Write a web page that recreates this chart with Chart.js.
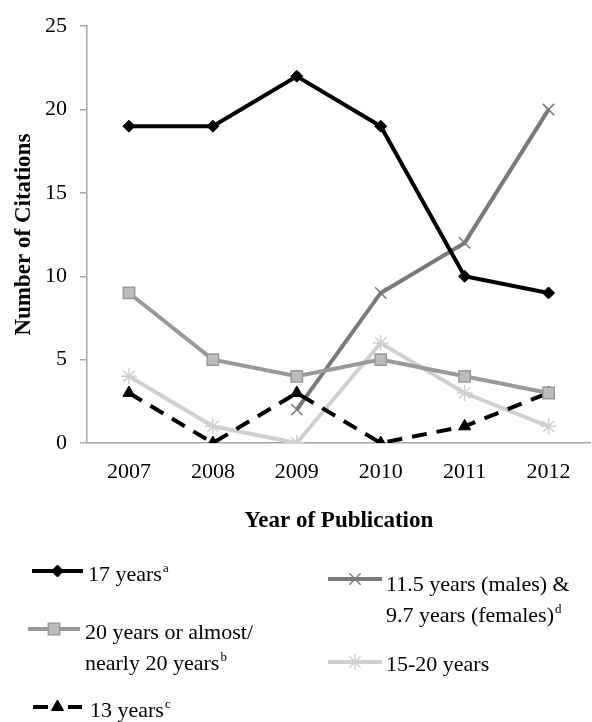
<!DOCTYPE html>
<html>
<head>
<meta charset="utf-8">
<script src="https://cdn.jsdelivr.net/npm/chart.js@4.4.0/dist/chart.umd.min.js"></script>
<style>
  html, body { margin: 0; padding: 0; background: #fff; overflow: hidden; }
  canvas { display: block; }
</style>
</head>
<body>
<canvas id="citas" width="600" height="722" style="width:600px;height:722px"></canvas>
<script>
const anos = ["2007", "2008", "2009", "2010", "2011", "2012"];
const yTicks = [0, 5, 10, 15, 20, 25];

const anos17 = [19, 19, 22, 19, 10, 9];
const anos20 = [9, 5, 4, 5, 4, 3];
const anos13 = [3, 0, 3, 0, 1, 3];
const anos115 = [null, null, 2, 9, 12, 20];
const anos1520 = [4, 1, 0, 6, 3, 1];

// legend text lines + footnote letter for each series
const nome17 = ["17 years"];
const nome20 = ["20 years or almost/", "nearly 20 years"];
const nome13 = ["13 years"];
const nome115 = ["11.5 years (males) &", "9.7 years (females)"];
const nome1520 = ["15-20 years"];
const notas = ["a", "b", "c", "d", ""];

const fonte = "'Liberation Serif', 'Times New Roman', serif";

const datasets = [
  {
    label: nome17.join(" "), data: anos17,
    borderColor: "#000", backgroundColor: "#000", borderWidth: 4,
    pointStyle: "rectRot", pointRadius: 6, pointBorderWidth: 1
  },
  {
    label: nome20.join(" "), data: anos20,
    borderColor: "#999", backgroundColor: "#bdbdbd", borderWidth: 4,
    pointStyle: "rect", pointRadius: 8, pointBorderWidth: 1.5, pointBorderColor: "#999"
  },
  {
    label: nome13.join(" "), data: anos13,
    borderColor: "#000", backgroundColor: "#000", borderWidth: 4, borderDash: [15, 10],
    pointStyle: "triangle", pointRadius: 7, pointBorderWidth: 1
  },
  {
    label: nome115.join(" "), data: anos115,
    borderColor: "#7a7a7a", backgroundColor: "#7a7a7a", borderWidth: 4,
    pointStyle: "crossRot", pointRadius: 8, pointBorderWidth: 1.5
  },
  {
    label: nome1520.join(" "), data: anos1520,
    borderColor: "#cfcfcf", backgroundColor: "#cfcfcf", borderWidth: 4,
    pointStyle: "star", pointRadius: 8, pointBorderWidth: 1.5
  }
];

const linhasLegenda = [nome17, nome20, nome13, nome115, nome1520];

function textoComNota(ctx, txt, nota, x, y) {
  ctx.font = "22px " + fonte;
  ctx.fillText(txt, x, y);
  if (nota) {
    const w = ctx.measureText(txt).width;
    ctx.font = "13px " + fonte;
    ctx.fillText(nota, x + w + 1, y - 6);
  }
}

const legendaPlugin = {
  id: "legendaPlugin",
  afterDraw(chart) {
    const ctx = chart.ctx;
    // [lineStartX, lineEndX, lineY, textX, firstTextY]
    const pos = [
      [32, 83, 571, 88, 575],
      [28, 80, 629, 85, 633],
      [33, 82, 707, 90, 711],
      [328, 382, 579, 386, 585],
      [328, 382, 662, 386, 665]
    ];
    chart.data.datasets.forEach((ds, i) => {
      const p = pos[i];
      ctx.save();
      ctx.strokeStyle = ds.borderColor;
      ctx.lineWidth = ds.borderWidth;
      ctx.setLineDash(ds.borderDash ? [15, 20] : []);
      ctx.beginPath();
      ctx.moveTo(p[0], p[2]);
      ctx.lineTo(p[1], p[2]);
      ctx.stroke();
      ctx.setLineDash([]);
      ctx.fillStyle = ds.backgroundColor;
      ctx.strokeStyle = ds.pointBorderColor || ds.borderColor;
      ctx.lineWidth = ds.pointBorderWidth;
      Chart.helpers.drawPoint(ctx, {
        pointStyle: ds.pointStyle, radius: ds.pointRadius, rotation: 0, borderWidth: ds.pointBorderWidth
      }, (p[0] + p[1]) / 2, p[2]);
      ctx.fillStyle = "#000";
      ctx.textBaseline = "middle";
      ctx.textAlign = "left";
      const linhas = linhasLegenda[i];
      linhas.forEach((l, k) => {
        const nota = k === linhas.length - 1 ? notas[i] : "";
        textoComNota(ctx, l, nota, p[3], p[4] + k * 31);
      });
      ctx.restore();
    });
  }
};

const grafico = new Chart(document.getElementById("citas"), {
  type: "line",
  data: { labels: anos, datasets: datasets },
  plugins: [legendaPlugin],
  options: {
    responsive: false,
    animation: false,
    spanGaps: false,
    layout: { padding: { top: 17, right: 0, bottom: 184, left: 0 } },
    plugins: { legend: { display: false }, tooltip: { enabled: false } },
    scales: {
      x: {
        offset: true,
        afterFit: (s) => { s.height = 95; },
        grid: { display: false },
        border: { display: true, color: "#a6a6a6", width: 1.5 },
        ticks: { color: "#000", padding: 8, font: { family: fonte, size: 22 } },
        title: {
          display: true, text: "Year of Publication", color: "#000",
          font: { family: fonte, size: 23, weight: "bold" }, padding: { top: 4, bottom: 3 }
        }
      },
      y: {
        min: 0, max: 25,
        afterBuildTicks: (s) => { s.ticks = yTicks.map(v => ({ value: v })); },
        afterFit: (s) => { s.width = 87; },
        grid: { drawOnChartArea: false, drawTicks: true, tickLength: 7, color: "#a6a6a6", lineWidth: 1.5 },
        border: { display: true, color: "#a6a6a6", width: 1.5 },
        ticks: { color: "#000", padding: 13, font: { family: fonte, size: 22 } },
        title: {
          display: true, text: "Number of Citations", color: "#000",
          font: { family: fonte, size: 23, weight: "bold" }, padding: { top: 10, bottom: 4 }
        }
      }
    }
  }
});
</script>
</body>
</html>
